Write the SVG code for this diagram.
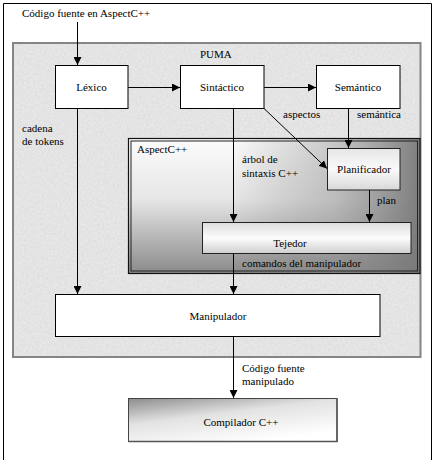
<svg xmlns="http://www.w3.org/2000/svg" width="438" height="460" viewBox="0 0 438 460" font-family="'Liberation Serif', 'Times New Roman', serif" font-size="11">
<style>
text{font-family:'Liberation Serif','Times New Roman',serif;font-size:11px;fill:#000}
.c{text-anchor:middle}
.box{fill:#fff;stroke:#000;stroke-width:1}
.ln{stroke:#000;stroke-width:1;fill:none}
</style>
<defs>
<marker id="ah" viewBox="0 0 10 10" refX="10" refY="5" markerWidth="8" markerHeight="8" markerUnits="userSpaceOnUse" orient="auto">
<path d="M0,0 L10,5 L0,10 z" fill="#000"/>
</marker>
<filter id="tex" x="0" y="0" width="100%" height="100%">
<feTurbulence type="fractalNoise" baseFrequency="0.45" numOctaves="2" seed="3" result="n"/>
<feColorMatrix in="n" type="matrix" values="0 0 0 0 0.55  0 0 0 0 0.55  0 0 0 0 0.55  0 0 0 0.45 0" result="g"/>
<feComposite in="g" in2="SourceGraphic" operator="in" result="gm"/>
<feMerge><feMergeNode in="SourceGraphic"/><feMergeNode in="gm"/></feMerge>
</filter>
<linearGradient id="aspV" x1="0" y1="0" x2="0" y2="1">
<stop offset="0" stop-color="#fcfcfc"/>
<stop offset="0.45" stop-color="#e6e6e6"/>
<stop offset="1" stop-color="#8a8a8a"/>
</linearGradient>
<linearGradient id="aspH" x1="0" y1="0" x2="1" y2="0">
<stop offset="0.35" stop-color="#808080" stop-opacity="0"/>
<stop offset="0.7" stop-color="#8c8c8c" stop-opacity="0.45"/>
<stop offset="1" stop-color="#777777" stop-opacity="0.95"/>
</linearGradient>
<linearGradient id="plan" x1="0" y1="0" x2="0" y2="1">
<stop offset="0" stop-color="#e6e6e6"/>
<stop offset="0.5" stop-color="#fafafa"/>
<stop offset="1" stop-color="#d8d8d8"/>
</linearGradient>
<linearGradient id="tej" x1="0" y1="0" x2="0" y2="1">
<stop offset="0" stop-color="#dcdcdc"/>
<stop offset="0.5" stop-color="#fcfcfc"/>
<stop offset="1" stop-color="#cfcfcf"/>
</linearGradient>
<linearGradient id="comp" x1="0" y1="0" x2="0.6" y2="1">
<stop offset="0" stop-color="#8c8c8c"/>
<stop offset="0.45" stop-color="#e2e2e2"/>
<stop offset="1" stop-color="#ffffff"/>
</linearGradient>
</defs>

<g id="frame">
<path d="M3.5,460 V3.5 H431.5 V460" class="ln" stroke="#333"/>
</g>

<g id="puma">
<rect x="13" y="43" width="407.5" height="314" fill="#ececec" filter="url(#tex)"/>
<rect x="13" y="43" width="407.5" height="314" fill="none" stroke="#858585" stroke-width="2"/>
<text x="200" y="58">PUMA</text>
</g>

<g id="aspectc">
<rect x="128.5" y="138.5" width="291.5" height="135" fill="url(#aspV)"/>
<rect x="128.5" y="138.5" width="291.5" height="135" fill="url(#aspH)"/>
<rect x="128.5" y="138.5" width="291.5" height="135" fill="none" stroke="#111" stroke-width="1.2"/>
<rect x="131" y="141" width="286.5" height="130" fill="none" stroke="#222" stroke-width="1"/>
<text x="137" y="153">AspectC++</text>
</g>

<g id="lexico">
<rect x="55.5" y="65.5" width="72.5" height="43" class="box"/>
<text x="91.5" y="91" class="c">Léxico</text>
</g>
<g id="sintactico">
<rect x="180.5" y="65.5" width="83.5" height="43" class="box"/>
<text x="222" y="91" class="c">Sintáctico</text>
</g>
<g id="semantico">
<rect x="316.5" y="65.5" width="83.5" height="43" class="box"/>
<text x="358" y="91" class="c">Semántico</text>
</g>
<g id="planificador">
<rect x="327.5" y="148.5" width="72.5" height="41.5" fill="url(#plan)" stroke="#222" stroke-width="1"/>
<text x="364" y="173" class="c">Planificador</text>
</g>
<g id="tejedor">
<rect x="202.5" y="222.5" width="208.5" height="31" fill="url(#tej)" stroke="#222" stroke-width="1"/>
<text x="290" y="247" class="c">Tejedor</text>
</g>
<g id="manipulador">
<rect x="55.5" y="294.5" width="324.5" height="42" class="box"/>
<text x="218" y="320" class="c">Manipulador</text>
</g>
<g id="compilador">
<rect x="128.5" y="398.5" width="208.5" height="43" fill="url(#comp)" stroke="#444" stroke-width="1"/>
<path d="M128.5,441.5 H337 V398.5" fill="none" stroke="#555" stroke-width="1.5"/>
<text x="241" y="426" class="c">Compilador  C++</text>
</g>

<g id="connectors">
<line x1="77.5" y1="22" x2="77.5" y2="65" class="ln" marker-end="url(#ah)"/>
<line x1="128" y1="87.5" x2="180" y2="87.5" class="ln" marker-end="url(#ah)"/>
<line x1="264" y1="87.5" x2="316" y2="87.5" class="ln" marker-end="url(#ah)"/>
<line x1="77.5" y1="108.5" x2="77.5" y2="294" class="ln" marker-end="url(#ah)"/>
<line x1="233.5" y1="108.5" x2="233.5" y2="222" class="ln" marker-end="url(#ah)"/>
<line x1="264" y1="108.5" x2="327" y2="168.5" class="ln" marker-end="url(#ah)"/>
<line x1="348.5" y1="108.5" x2="348.5" y2="148" class="ln" marker-end="url(#ah)"/>
<line x1="369.5" y1="190" x2="369.5" y2="222" class="ln" marker-end="url(#ah)"/>
<line x1="233.5" y1="253.5" x2="233.5" y2="294" class="ln" marker-end="url(#ah)"/>
<line x1="233.5" y1="336.5" x2="233.5" y2="398" class="ln" marker-end="url(#ah)"/>
</g>

<g id="labels">
<text x="22" y="17">Código fuente en AspectC++</text>
<text x="22" y="132">cadena</text>
<text x="22" y="145">de tokens</text>
<text x="283" y="118">aspectos</text>
<text x="357" y="118">semántica</text>
<text x="242" y="163">árbol de</text>
<text x="242" y="177">sintaxis C++</text>
<text x="377" y="204">plan</text>
<text x="242" y="267">comandos del manipulador</text>
<text x="242" y="372">Código fuente</text>
<text x="242" y="385">manipulado</text>
</g>
</svg>
